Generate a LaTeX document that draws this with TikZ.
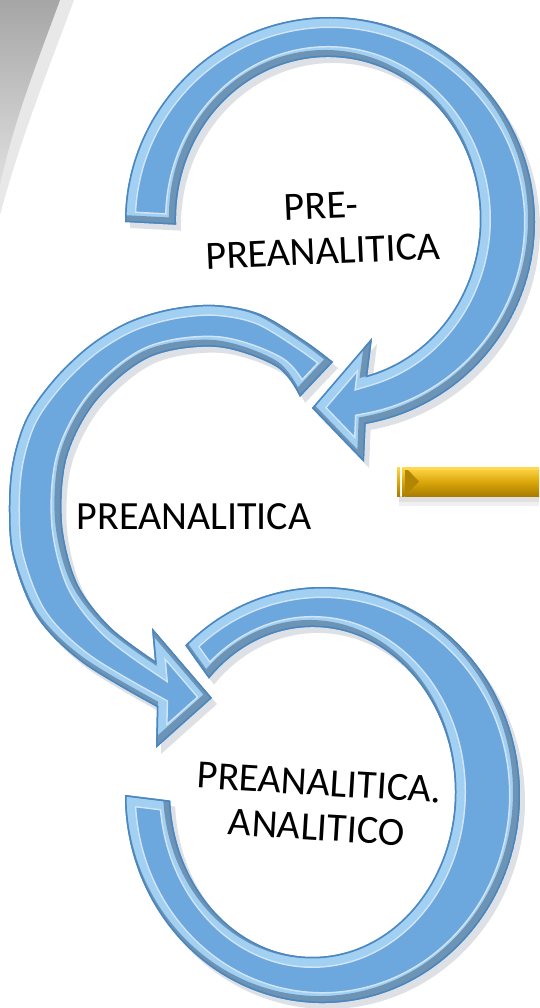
\documentclass[tikz,border=0pt]{standalone}
\usepackage{fontspec}
\setmainfont{Carlito}
\usepackage{xcolor}
\usepackage{tikz}
\usetikzlibrary{calc}

\definecolor{arrowface}{HTML}{6CA8DE}
\definecolor{arrowbevel}{HTML}{A2D0F3}
\definecolor{arrowrim}{HTML}{4A86C0}
\definecolor{arrowdark}{HTML}{1F3A5A}
\definecolor{goldlight}{HTML}{FFD84D}
\definecolor{goldmid}{HTML}{DCA80A}
\definecolor{golddark}{HTML}{A87C00}

\tikzset{
  steptext/.style={font=\fontsize{40}{45}\selectfont, align=center, inner sep=0pt},
  cornershade/.style={top color=gray!70, bottom color=gray!25},
}

% outlines of the three circular arrows (pixel coordinates, y downwards)
\newcommand{\cyclepre}{(125,222) arc[start angle=180, end angle=440, radius=205]
  -- (364,462) -- (312,408) -- (372,338) -- (367.3,375.5)
  arc[start angle=435, end angle=178, x radius=152, y radius=162] -- cycle}
\newcommand{\cyclepreana}{plot[smooth, tension=.55] coordinates {(333,362) (305,341) (260,314) (215,305) (170,309) (128,322) (90,345) (55,378) (27,417) (13,460) (9,505) (13,557) (37,617) (83,663) (157,707)}
  -- (156,748) -- (212,698) -- (152,628)
  -- plot[smooth, tension=.55] coordinates {(155,661) (110,627) (77,583) (62,523) (67,457) (97,400) (150,357) (217,347) (277,367) (300,397)} -- cycle}
\newcommand{\cycleana}{(185.3,645.4) arc[start angle=226, end angle=540, x radius=197.5, y radius=208]
  -- (170.2,800.6) arc[start angle=537, end angle=223.4, x radius=142.5, y radius=165] -- cycle}

\newcommand{\bluearrow}[1]{%
  \fill[arrowdark, opacity=.15, shift={(5,6)}] #1;
  \begin{scope}
    \clip #1;
    \fill[arrowface] #1;
    \draw[white, line width=22, opacity=.7] #1;
    \draw[arrowbevel, line width=19] #1;
    \draw[arrowdark, line width=8, opacity=.4, shift={(-3,-3)}] #1;
    \draw[arrowrim, line width=3] #1;
  \end{scope}}

\begin{document}
\begin{tikzpicture}[x=1pt, y=-1pt]
  \useasboundingbox (0,0) rectangle (539,1008);
  \fill[white] (0,0) rectangle (539,1008);

  % grey page corner
  \fill[gray!18] (0,0) -- (74,0) .. controls (48,70) and (20,140) .. (0,215) -- cycle;
  \shade[cornershade] (0,0) -- (60,0) .. controls (38,60) and (14,120) .. (0,185) -- cycle;

  % arrows
  \bluearrow{\cycleana}
  \bluearrow{\cyclepreana}
  \bluearrow{\cyclepre}

  % gold bar
  \fill[black, opacity=.12] (399,496) rectangle (539,502);
  \fill[black, opacity=.06] (399,502) rectangle (539,506);
  \shade[top color=goldlight, bottom color=golddark, middle color=goldmid] (397,467) rectangle (400,496);
  \shade[top color=goldlight, bottom color=golddark, middle color=goldmid] (402,467) rectangle (404.5,496);
  \shade[top color=goldlight, bottom color=golddark, middle color=goldmid] (405,467) rectangle (539,496);
  \fill[golddark!80!goldmid] (405,467) -- (419,481.5) -- (405,496) -- cycle;
  \fill[goldlight] (405,467) rectangle (539,470);

  % labels
  \node[steptext, rotate=2.5] (prepre) at (322,229) {PRE-\\PREANALITICA};
  \node[steptext] (preana) at (194,517) {PREANALITICA};
  \node[steptext, rotate=-3.5] (ana) at (318,805) {PREANALITICA.\\ANALITICO};
\end{tikzpicture}
\end{document}
